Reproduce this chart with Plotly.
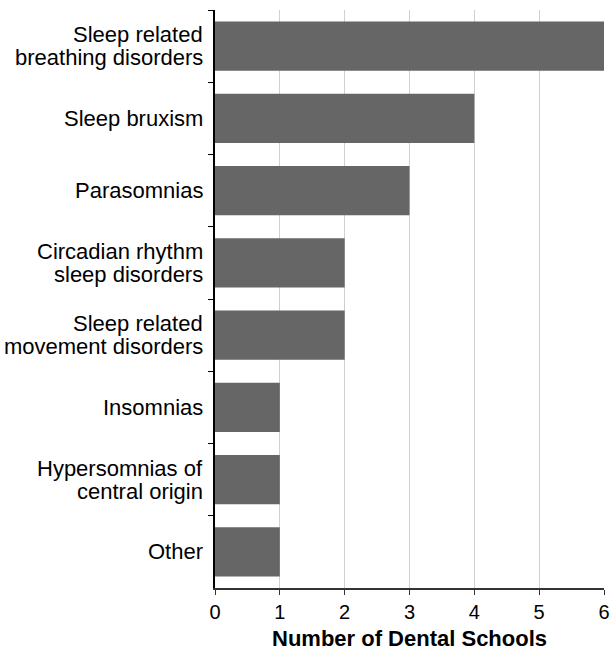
import plotly.graph_objects as go

categories = [
    "Sleep related<br>breathing disorders",
    "Sleep bruxism",
    "Parasomnias",
    "Circadian rhythm<br>sleep disorders",
    "Sleep related<br>movement disorders",
    "Insomnias",
    "Hypersomnias of<br>central origin",
    "Other",
]
schools = [6, 4, 3, 2, 2, 1, 1, 1]
x_title = "Number of Dental Schools"

BAR = "#666666"
FONT = "Liberation Sans, Arial, sans-serif"
LABEL_SIZE = 22
LINE_GAP = 23  # tighter leading than plotly's default <br> spacing

fig = go.Figure(go.Bar(
    x=schools,
    y=categories,
    orientation="h",
    marker=dict(color=BAR, line=dict(width=0)),
))

# category labels drawn line by line so the leading matches
for cat in categories:
    lines = cat.split("<br>")
    n = len(lines)
    for i, line in enumerate(lines):
        fig.add_annotation(
            x=0, xref="paper", xanchor="right", xshift=-10,
            y=cat, yref="y", yanchor="middle",
            yshift=((n - 1) / 2 - i) * LINE_GAP,
            text=line, showarrow=False,
            font=dict(size=LABEL_SIZE, color="black"),
        )

# x axis title, a touch lower than plotly's own placement
fig.add_annotation(
    x=0.5, xref="paper", xanchor="center",
    y=0, yref="paper", yanchor="middle", yshift=-50,
    text=f"<b>{x_title}</b>", showarrow=False,
    font=dict(size=22, color="black"),
    borderpad=0,
)

fig.update_layout(
    width=610,
    height=650,
    margin=dict(l=215, r=6, t=10, b=62, autoexpand=False),
    plot_bgcolor="white",
    paper_bgcolor="white",
    font=dict(family=FONT, size=20, color="black"),
    bargap=0.32,
    showlegend=False,
)
fig.update_xaxes(
    range=[0, 6],
    dtick=1,
    showgrid=True,
    gridcolor="#d0d0d0",
    gridwidth=1,
    showline=True,
    linecolor="#333333",
    linewidth=1.5,
    ticks="outside",
    ticklen=5,
    tickcolor="#333333",
    tickfont=dict(size=20),
    zeroline=False,
    automargin=False,
)
fig.update_yaxes(
    autorange="reversed",
    tickson="boundaries",
    showgrid=False,
    showline=True,
    linecolor="black",
    linewidth=1.5,
    ticks="outside",
    ticklen=5,
    tickcolor="black",
    showticklabels=False,
    automargin=False,
)

# drop the default body margin so the 610x650 figure fills the window
fig.write_html(
    "out.html",
    config={"displayModeBar": False},
    post_script="document.body.style.margin='0';document.body.style.overflow='hidden';",
)
